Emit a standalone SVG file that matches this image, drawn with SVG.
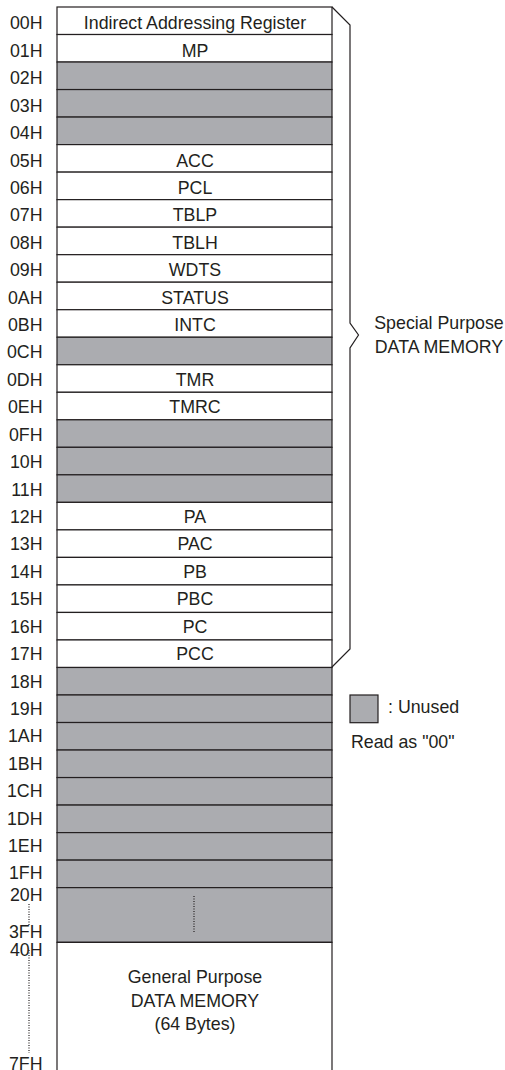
<svg xmlns="http://www.w3.org/2000/svg" width="505" height="1070" viewBox="0 0 505 1070">
<style>
.cell{fill:#ffffff;stroke:#231f20;stroke-width:1.2}
.unused{fill:#abacb0;stroke:#231f20;stroke-width:1.2}
text{font-family:"Liberation Sans",Arial,sans-serif;font-size:17.8px;fill:#231f20}
.lbl{text-anchor:end}
.reg{text-anchor:middle}
.brace{fill:none;stroke:#231f20;stroke-width:1.2}
.dot{fill:none;stroke:#231f20;stroke-width:1.2;stroke-dasharray:1 1.5}
</style>
<rect width="505" height="1070" fill="#ffffff"/>
<g id="cells">
<g id="r00"><rect class="cell" x="57" y="7" width="275" height="27.52"/><text class="reg" x="195" y="29.4">Indirect Addressing Register</text></g>
<g id="r01"><rect class="cell" x="57" y="34.52" width="275" height="27.52"/><text class="reg" x="195" y="56.8">MP</text></g>
<g id="r02"><rect class="unused" x="57" y="62.04" width="275" height="27.52"/></g>
<g id="r03"><rect class="unused" x="57" y="89.56" width="275" height="27.52"/></g>
<g id="r04"><rect class="unused" x="57" y="117.08" width="275" height="27.52"/></g>
<g id="r05"><rect class="cell" x="57" y="144.6" width="275" height="27.52"/><text class="reg" x="195" y="166.5">ACC</text></g>
<g id="r06"><rect class="cell" x="57" y="172.12" width="275" height="27.52"/><text class="reg" x="195" y="193.9">PCL</text></g>
<g id="r07"><rect class="cell" x="57" y="199.64" width="275" height="27.52"/><text class="reg" x="195" y="221.3">TBLP</text></g>
<g id="r08"><rect class="cell" x="57" y="227.16" width="275" height="27.52"/><text class="reg" x="195" y="248.8">TBLH</text></g>
<g id="r09"><rect class="cell" x="57" y="254.68" width="275" height="27.52"/><text class="reg" x="195" y="276.2">WDTS</text></g>
<g id="r0A"><rect class="cell" x="57" y="282.2" width="275" height="27.52"/><text class="reg" x="195" y="303.6">STATUS</text></g>
<g id="r0B"><rect class="cell" x="57" y="309.72" width="275" height="27.52"/><text class="reg" x="195" y="331">INTC</text></g>
<g id="r0C"><rect class="unused" x="57" y="337.24" width="275" height="27.52"/></g>
<g id="r0D"><rect class="cell" x="57" y="364.76" width="275" height="27.52"/><text class="reg" x="195" y="385.9">TMR</text></g>
<g id="r0E"><rect class="cell" x="57" y="392.28" width="275" height="27.52"/><text class="reg" x="195" y="413.3">TMRC</text></g>
<g id="r0F"><rect class="unused" x="57" y="419.8" width="275" height="27.52"/></g>
<g id="r10"><rect class="unused" x="57" y="447.32" width="275" height="27.52"/></g>
<g id="r11"><rect class="unused" x="57" y="474.84" width="275" height="27.52"/></g>
<g id="r12"><rect class="cell" x="57" y="502.36" width="275" height="27.52"/><text class="reg" x="195" y="523">PA</text></g>
<g id="r13"><rect class="cell" x="57" y="529.88" width="275" height="27.52"/><text class="reg" x="195" y="550.4">PAC</text></g>
<g id="r14"><rect class="cell" x="57" y="557.4" width="275" height="27.52"/><text class="reg" x="195" y="577.8">PB</text></g>
<g id="r15"><rect class="cell" x="57" y="584.92" width="275" height="27.52"/><text class="reg" x="195" y="605.2">PBC</text></g>
<g id="r16"><rect class="cell" x="57" y="612.44" width="275" height="27.52"/><text class="reg" x="195" y="632.6">PC</text></g>
<g id="r17"><rect class="cell" x="57" y="639.96" width="275" height="27.52"/><text class="reg" x="195" y="660.1">PCC</text></g>
<g id="r18"><rect class="unused" x="57" y="667.48" width="275" height="27.52"/></g>
<g id="r19"><rect class="unused" x="57" y="695" width="275" height="27.52"/></g>
<g id="r1A"><rect class="unused" x="57" y="722.52" width="275" height="27.52"/></g>
<g id="r1B"><rect class="unused" x="57" y="750.04" width="275" height="27.52"/></g>
<g id="r1C"><rect class="unused" x="57" y="777.56" width="275" height="27.52"/></g>
<g id="r1D"><rect class="unused" x="57" y="805.08" width="275" height="27.52"/></g>
<g id="r1E"><rect class="unused" x="57" y="832.6" width="275" height="27.52"/></g>
<g id="r1F"><rect class="unused" x="57" y="860.12" width="275" height="27.52"/></g>
<g id="r20_3F"><rect class="unused" x="57" y="887.64" width="275" height="54.66"/><line class="dot" x1="194" y1="896" x2="194" y2="932"/></g>
<g id="r40_7F"><path class="cell" d="M57,1072 V942.3 H332 V1072"/>
<text class="reg" x="195" y="983">General Purpose</text>
<text class="reg" x="195" y="1006.5">DATA MEMORY</text>
<text class="reg" x="195" y="1030">(64 Bytes)</text></g>
</g>
<g id="labels">
<text class="lbl" x="42.5" y="29.4">00H</text>
<text class="lbl" x="42.5" y="56.8">01H</text>
<text class="lbl" x="42.5" y="84.2">02H</text>
<text class="lbl" x="42.5" y="111.7">03H</text>
<text class="lbl" x="42.5" y="139.1">04H</text>
<text class="lbl" x="42.5" y="166.5">05H</text>
<text class="lbl" x="42.5" y="193.9">06H</text>
<text class="lbl" x="42.5" y="221.3">07H</text>
<text class="lbl" x="42.5" y="248.8">08H</text>
<text class="lbl" x="42.5" y="276.2">09H</text>
<text class="lbl" x="42.5" y="303.6">0AH</text>
<text class="lbl" x="42.5" y="331">0BH</text>
<text class="lbl" x="42.5" y="358.4">0CH</text>
<text class="lbl" x="42.5" y="385.9">0DH</text>
<text class="lbl" x="42.5" y="413.3">0EH</text>
<text class="lbl" x="42.5" y="440.7">0FH</text>
<text class="lbl" x="42.5" y="468.1">10H</text>
<text class="lbl" x="42.5" y="495.5">11H</text>
<text class="lbl" x="42.5" y="523">12H</text>
<text class="lbl" x="42.5" y="550.4">13H</text>
<text class="lbl" x="42.5" y="577.8">14H</text>
<text class="lbl" x="42.5" y="605.2">15H</text>
<text class="lbl" x="42.5" y="632.6">16H</text>
<text class="lbl" x="42.5" y="660.1">17H</text>
<text class="lbl" x="42.5" y="687.5">18H</text>
<text class="lbl" x="42.5" y="714.9">19H</text>
<text class="lbl" x="42.5" y="742.3">1AH</text>
<text class="lbl" x="42.5" y="769.7">1BH</text>
<text class="lbl" x="42.5" y="797.2">1CH</text>
<text class="lbl" x="42.5" y="824.6">1DH</text>
<text class="lbl" x="42.5" y="852">1EH</text>
<text class="lbl" x="42.5" y="879.4">1FH</text>
<text class="lbl" x="42.5" y="900.5">20H</text>
<text class="lbl" x="42.5" y="938.3">3FH</text>
<text class="lbl" x="42.5" y="955.5">40H</text>
<text class="lbl" x="42.5" y="1069.5">7FH</text>
<line class="dot" x1="29" y1="904" x2="29" y2="926"/>
<line class="dot" x1="29" y1="950" x2="29" y2="1053"/>
</g>
<g id="connectors">
<path class="brace" d="M332,7 L350,25 V323 L358.5,335 L350,348 V649 L332,667"/>
</g>
<g id="special">
<text class="reg" x="439" y="329.3">Special Purpose</text>
<text class="reg" x="439" y="353.3">DATA MEMORY</text>
</g>
<g id="legend">
<rect class="unused" x="350" y="695" width="28" height="27.7"/>
<text x="388" y="712.7">: Unused</text>
<text x="351" y="747.5">Read as "00"</text>
</g>
</svg>
